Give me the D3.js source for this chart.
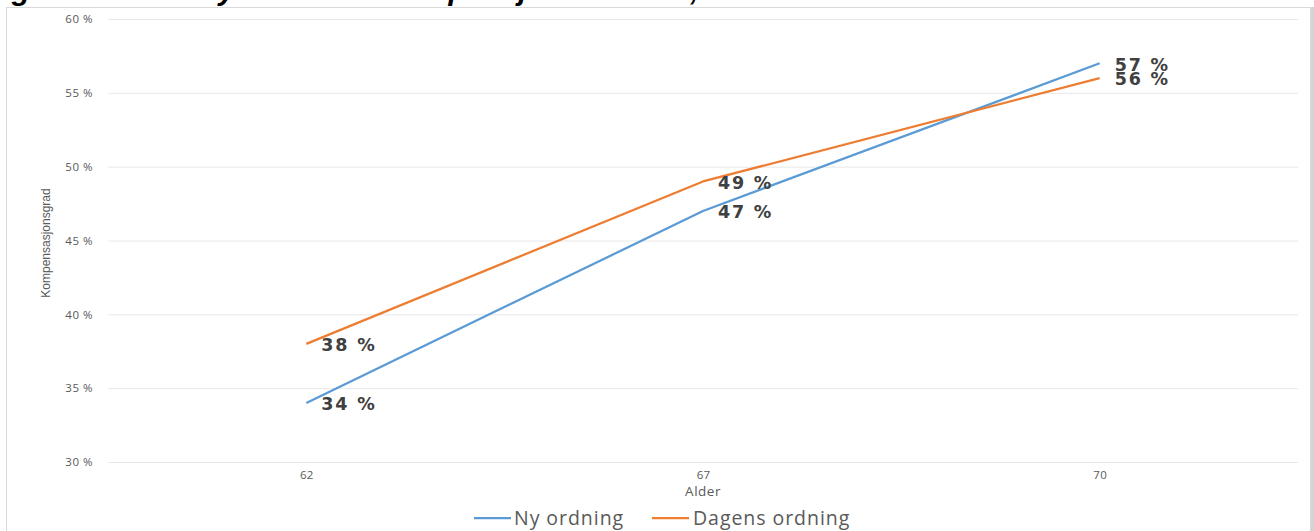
<!DOCTYPE html>
<html>
<head>
<meta charset="utf-8">
<script src="https://cdn.jsdelivr.net/npm/d3@7"></script>
<style>
  html, body { margin: 0; padding: 0; background: #fff; }
  svg { display: block; }
</style>
</head>
<body>
<svg id="chart" width="1314" height="531"></svg>
<script>
const categories = ["62", "67", "70"];
const nyOrdning = [0.34, 0.47, 0.57];
const dagensOrdning = [0.38, 0.49, 0.56];
const yTicks = [0.30, 0.35, 0.40, 0.45, 0.50, 0.55, 0.60];
const seriesNames = ["Ny ordning", "Dagens ordning"];
const seriesColors = ["#5B9BD5", "#ED7D31"];

const svg = d3.select("#chart");
const W = 1314, H = 531;
const plot = { left: 108, right: 1298, top: 19, bottom: 462 };

// title (cropped at top, as in reference: only descenders visible)
svg.append("text")
  .attr("x", -15).attr("y", 0)
  .attr("dominant-baseline", "alphabetic")
  .attr("font-family", "Liberation Sans, Arial, sans-serif")
  .attr("font-size", 30).attr("font-weight", "bold").attr("font-style", "italic")
  .attr("fill", "#000")
  .text("Figur 4 Samlet ny utbetalt alderspensjon før skatt, etter alder");

// chart frame
svg.append("rect")
  .attr("x", 6.5).attr("y", 7.5).attr("width", 1304).attr("height", 540)
  .attr("fill", "#fff").attr("stroke", "#d9d9d9").attr("stroke-width", 1);
svg.append("rect")
  .attr("x", 1311).attr("y", 7).attr("width", 3).attr("height", H)
  .attr("fill", "#d4d4d4");

const x = d3.scalePoint().domain(categories).range([plot.left, plot.right]).padding(0.5);
const y = d3.scaleLinear().domain([0.30, 0.60]).range([plot.bottom, plot.top]);

// gridlines + y labels
const yAxis = d3.axisLeft(y).tickValues(yTicks)
  .tickSize(-(plot.right - plot.left)).tickPadding(15)
  .tickFormat(d => Math.round(d * 100) + " %");
const gy = svg.append("g").attr("transform", `translate(${plot.left},0)`).call(yAxis);
gy.select(".domain").remove();
gy.selectAll(".tick line").attr("stroke", "#e8e8e8").attr("stroke-width", 1);
gy.selectAll(".tick text")
  .attr("font-family", "Open Sans, sans-serif").attr("font-size", 11.5)
  .attr("letter-spacing", 0.5)
  .attr("fill", "#595959");

// x axis labels
const xAxis = d3.axisBottom(x).tickSize(0).tickPadding(9);
const gx = svg.append("g").attr("transform", `translate(0,${plot.bottom})`).call(xAxis);
gx.select(".domain").remove();
gx.selectAll(".tick text")
  .attr("font-family", "Open Sans, sans-serif").attr("font-size", 11.5)
  .attr("letter-spacing", 0.3)
  .attr("fill", "#595959");

// axis titles
svg.append("text")
  .attr("x", x("67")).attr("y", 495.5)
  .attr("text-anchor", "middle")
  .attr("font-family", "Open Sans, sans-serif").attr("font-size", 13.5)
  .attr("letter-spacing", 0.5)
  .attr("fill", "#595959").text("Alder");
svg.append("text")
  .attr("transform", "translate(50,243) rotate(-90)")
  .attr("text-anchor", "middle")
  .attr("font-family", "Liberation Sans Narrow, Arial Narrow, sans-serif").attr("font-size", 12)
  .attr("fill", "#595959").text("Kompensasjonsgrad");

// lines
const series = [nyOrdning, dagensOrdning];
const line = d3.line().x((d, i) => x(categories[i])).y(d => y(d));
series.forEach((vals, si) => {
  svg.append("path").datum(vals)
    .attr("d", line).attr("fill", "none")
    .attr("stroke", seriesColors[si]).attr("stroke-width", 2.25)
    .attr("stroke-linejoin", "round");
});

// data labels
series.forEach((vals, si) => {
  svg.append("g").selectAll("text").data(vals).join("text")
    .attr("x", (d, i) => x(categories[i]) + 15)
    .attr("y", (d, i) => y(d) + 1)
    .attr("dy", "0.36em")
    .attr("font-family", "DejaVu Sans, Verdana, sans-serif")
    .attr("font-size", 17.5).attr("font-weight", "bold")
    .attr("letter-spacing", 1.8)
    .attr("fill", "#404040")
    .text(d => Math.round(d * 100) + " %");
});

// legend
const legendItems = [{ x: 474, tx: 514 }, { x: 652, tx: 693 }];
legendItems.forEach((it, i) => {
  svg.append("line")
    .attr("x1", it.x).attr("x2", it.x + 37)
    .attr("y1", 518).attr("y2", 518)
    .attr("stroke", seriesColors[i]).attr("stroke-width", 2.25);
  svg.append("text")
    .attr("x", it.tx).attr("y", 518).attr("dy", "0.35em")
    .attr("font-family", "Open Sans, sans-serif").attr("font-size", 19.5)
    .attr("letter-spacing", 0.95)
    .attr("fill", "#595959").text(seriesNames[i]);
});
</script>
</body>
</html>
